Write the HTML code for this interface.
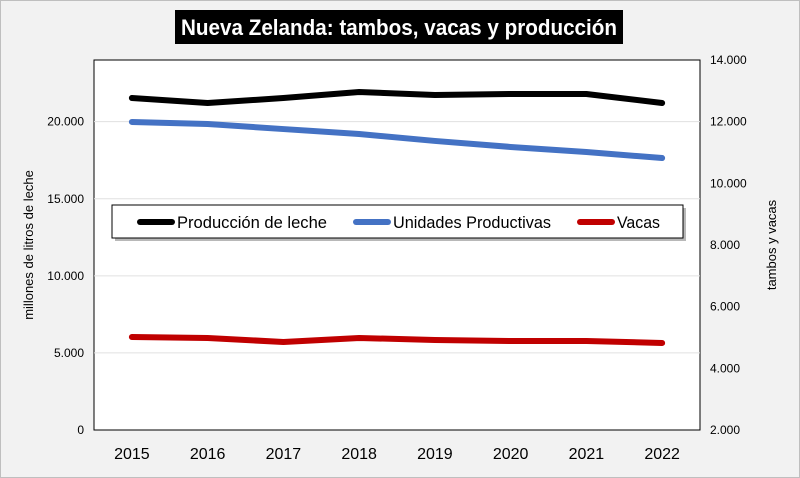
<!DOCTYPE html>
<html><head><meta charset="utf-8"><style>
body{margin:0;width:800px;height:478px;overflow:hidden;background:#f2f2f2;font-family:"Liberation Sans",sans-serif}
</style></head><body>
<svg width="800" height="478" style="position:absolute;left:0;top:0">
<rect x="0.5" y="0.5" width="799" height="477" fill="#f2f2f2" stroke="#bfbfbf"/>
<rect x="175" y="10" width="448" height="34" fill="#000"/>
<text x="181" y="35" fill="#fff" font-size="22" font-weight="bold" textLength="436" lengthAdjust="spacingAndGlyphs">Nueva Zelanda: tambos, vacas y producción</text>
<rect x="94" y="60" width="606" height="370" fill="#fff" stroke="#000"/>
<g id="grid"></g><g id="axes"></g><g id="series"></g>
<g>
<rect x="115" y="208" width="571" height="33" fill="#888" opacity="0.6"/>
<rect x="112" y="205" width="571" height="33" fill="#fff" stroke="#000"/>
<line x1="140" y1="222" x2="172" y2="222" stroke="#000" stroke-width="6" stroke-linecap="round"/>
<text x="177" y="228" font-size="17" textLength="150" lengthAdjust="spacingAndGlyphs">Producción de leche</text>
<line x1="356" y1="222" x2="388" y2="222" stroke="#4472c4" stroke-width="6" stroke-linecap="round"/>
<text x="393" y="228" font-size="17" textLength="158" lengthAdjust="spacingAndGlyphs">Unidades Productivas</text>
<line x1="580" y1="222" x2="612" y2="222" stroke="#c00000" stroke-width="6" stroke-linecap="round"/>
<text x="617" y="228" font-size="17" textLength="43" lengthAdjust="spacingAndGlyphs">Vacas</text>
</g>
<text transform="translate(33,245) rotate(-90)" text-anchor="middle" font-size="13">millones de litros de leche</text>
<text transform="translate(776,245) rotate(-90)" text-anchor="middle" font-size="13">tambos y vacas</text>
</svg>
<script>
const years=["2015","2016","2017","2018","2019","2020","2021","2022"];
const produccion=[21535,21210,21535,21925,21730,21795,21795,21210];
const unidades=[11990,11925,11760,11600,11375,11180,11015,10820];
const vacas=[5016,4985,4854,4985,4920,4886,4886,4822];
const leftTicks=[0,5000,10000,15000,20000];
const rightTicks=[2000,4000,6000,8000,10000,12000,14000];
const NS="http://www.w3.org/2000/svg";
const X0=94,W=606,Y0=430,H=370;
const xS=i=>X0+W/years.length*(i+0.5);
const yL=v=>Y0-v/24000*H;
const yR=v=>Y0-(v-2000)/12000*H;
const fmt=v=>v===0?"0":v.toLocaleString("de-DE");
function mk(tag,attrs,parent){const e=document.createElementNS(NS,tag);for(const k in attrs)e.setAttribute(k,attrs[k]);document.getElementById(parent).appendChild(e);return e;}
leftTicks.forEach(v=>{
 if(v>0){const g=mk("line",{x1:X0,x2:X0+W,y1:yL(v),y2:yL(v),stroke:"#e0e0e0"},"grid");
 
 }
 const t=mk("text",{x:84,y:yL(v)+4,"text-anchor":"end","font-size":12},"axes");t.textContent=fmt(v);
 
 
});
rightTicks.forEach(v=>{
 const t=mk("text",{x:710,y:yR(v)+4,"font-size":12},"axes");t.textContent=fmt(v);
 
 
});
years.forEach((y,i)=>{
 const t=mk("text",{x:xS(i),y:459,"text-anchor":"middle","font-size":16},"axes");t.textContent=y;
 
 
});
function line(data,ys,color,name){
 const p=mk("polyline",{points:data.map((v,i)=>xS(i)+","+ys(v)).join(" "),fill:"none",stroke:color,"stroke-width":6,"stroke-linecap":"round","stroke-linejoin":"round"},"series");
 
 
}
line(produccion,yL,"#000","line-produccion");
line(unidades,yR,"#4472c4","line-unidades");
line(vacas,yR,"#c00000","line-vacas");
</script>
</body></html>
